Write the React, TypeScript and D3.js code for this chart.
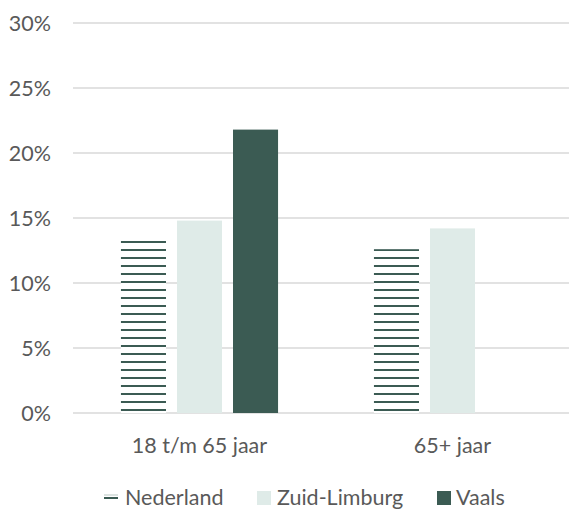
import React from "react";
import * as d3 from "d3";

const categories = ["18 t/m 65 jaar", "65+ jaar"];
const seriesNames = ["Nederland", "Zuid-Limburg", "Vaals"];
const nederland = [13.3, 12.6];
const zuidLimburg = [14.8, 14.2];
const vaals: (number | null)[] = [21.8, null];
const yTicks = [0, 5, 10, 15, 20, 25, 30];

const W = 569;
const H = 509;
const DARK = "#3b5b53";
const LIGHT = "#dfebe8";
const TEXT = "#595959";
const FONT = "Lato, 'Open Sans', sans-serif";
const FS = 21.5;

export default function App() {
  const y = d3.scaleLinear().domain([0, 30]).range([413, 23]);
  const x0 = d3
    .scaleBand<string>()
    .domain(categories)
    .range([73, 579])
    .paddingInner(0.379)
    .paddingOuter(0.1895);
  const x1 = d3
    .scaleBand<string>()
    .domain(seriesNames)
    .range([0, x0.bandwidth()])
    .paddingInner(0.196)
    .paddingOuter(0);

  const data = [nederland, zuidLimburg, vaals];
  const fills = ["url(#hatch)", LIGHT, DARK];

  return (
    <svg
      width={W}
      height={H}
      style={{ position: "absolute", left: 0, top: 0, background: "#fff" }}
      fontFamily={FONT}
    >
      <defs>
        <pattern id="hatch" patternUnits="userSpaceOnUse" width={8} height={8}>
          <rect x={0} y={0} width={8} height={8} fill="#fff" />
          <rect x={0} y={1} width={8} height={2} fill={DARK} />
        </pattern>
      </defs>
      {yTicks.map((t) => (
        <g key={t}>
          <line x1={73} x2={W} y1={y(t)} y2={y(t)} stroke="#d9d9d9" strokeWidth={1.3} />
          <text
            x={51}
            y={y(t)}
            dy="0.36em"
            textAnchor="end"
            fontSize={FS}
            fill={TEXT}
          >
            {t}%
          </text>
        </g>
      ))}
      {data.map((vals, si) =>
        vals.map((v, ci) =>
          v == null ? null : (
            <rect
              key={`${si}-${ci}`}
              x={(x0(categories[ci]) ?? 0) + (x1(seriesNames[si]) ?? 0)}
              y={y(v)}
              width={x1.bandwidth()}
              height={y(0) - y(v)}
              fill={fills[si]}
            />
          )
        )
      )}
      {categories.map((c) => (
        <text
          key={c}
          x={(x0(c) ?? 0) + x0.bandwidth() / 2}
          y={453}
          textAnchor="middle"
          fontSize={FS}
          fill={TEXT}
        >
          {c}
        </text>
      ))}
      <g>
        <rect x={104} y={494.5} width={14} height={1} fill="#b9c8c4" />
        <rect x={104} y={497} width={14} height={2} fill={DARK} />
        <text x={125} y={505} fontSize={FS} fill={TEXT}>
          {seriesNames[0]}
        </text>
        <rect x={257} y={491} width={14} height={14} fill={LIGHT} />
        <text x={277} y={505} fontSize={FS} fill={TEXT}>
          {seriesNames[1]}
        </text>
        <rect x={437} y={491} width={14} height={14} fill={DARK} />
        <text x={456} y={505} fontSize={FS} fill={TEXT}>
          {seriesNames[2]}
        </text>
      </g>
    </svg>
  );
}
